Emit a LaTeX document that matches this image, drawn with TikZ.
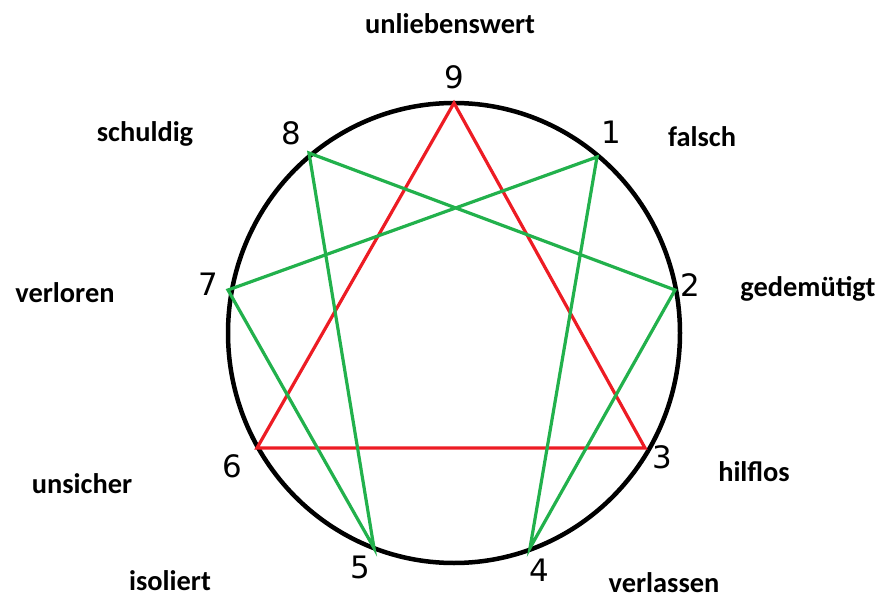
\documentclass[tikz,border=0pt]{standalone}
\usepackage{fontspec}
\usepackage{xcolor}
\usepackage{tikz}
\usetikzlibrary{positioning}
\setmainfont{Carlito}
\newfontfamily\digitfont{DejaVu Sans}
\definecolor{paintred}{RGB}{237, 28, 36}
\definecolor{paintgreen}{RGB}{34, 177, 76}

\begin{document}
\begin{tikzpicture}[x=1bp, y=-1bp,
  num/.style={font=\digitfont\fontsize{31}{33}\selectfont, inner sep=0pt},
  word/.style={font=\bfseries\fontsize{28.5}{30}\selectfont, inner sep=0pt}]
\useasboundingbox (0,0) rectangle (880,599);
% points on the circle
\coordinate (p9) at (454,103);
\coordinate (p1) at (597,157);
\coordinate (p2) at (675,290);
\coordinate (p3) at (645,448);
\coordinate (p4) at (530,548);
\coordinate (p5) at (374,548);
\coordinate (p6) at (257,448);
\coordinate (p7) at (228,290);
\coordinate (p8) at (309,153);
\coordinate (c) at (454,333);

\draw[line width=4.5bp] (c) ellipse [x radius=226, y radius=230];
\draw[paintred, line width=3.2bp, line join=miter] (p9) -- (p3) -- (p6) -- cycle;
\draw[paintgreen, line width=3.2bp] (p1) -- (p4) -- (p2) -- (p8) -- (p5) -- (p7) -- cycle;

% numbers
\node[num] (n9) at (454,77) {9};
\node[num] (n1) at (611,132) {1};
\node[num] (n2) at (690,285) {2};
\node[num] (n3) at (662,457) {3};
\node[num] (n4) at (539,570) {4};
\node[num] (n5) at (360,567) {5};
\node[num] (n6) at (232,466) {6};
\node[num] (n7) at (208,284) {7};
\node[num] (n8) at (291,133) {8};

% labels
\node[word] (l9) at (450,24) {unliebenswert};
\node[word] (l1) at (702,137) {falsch};
\node[word] (l2) at (808,289) {gedemütigt};
\node[word] (l3) at (754,472) {hilflos};
\node[word] (l4) at (664,583) {verlassen};
\node[word] (l5) at (170,581) {isoliert};
\node[word] (l6) at (82,484) {unsicher};
\node[word] (l7) at (65,293) {verloren};
\node[word] (l8) at (145,134) {schuldig};
\end{tikzpicture}
\end{document}
